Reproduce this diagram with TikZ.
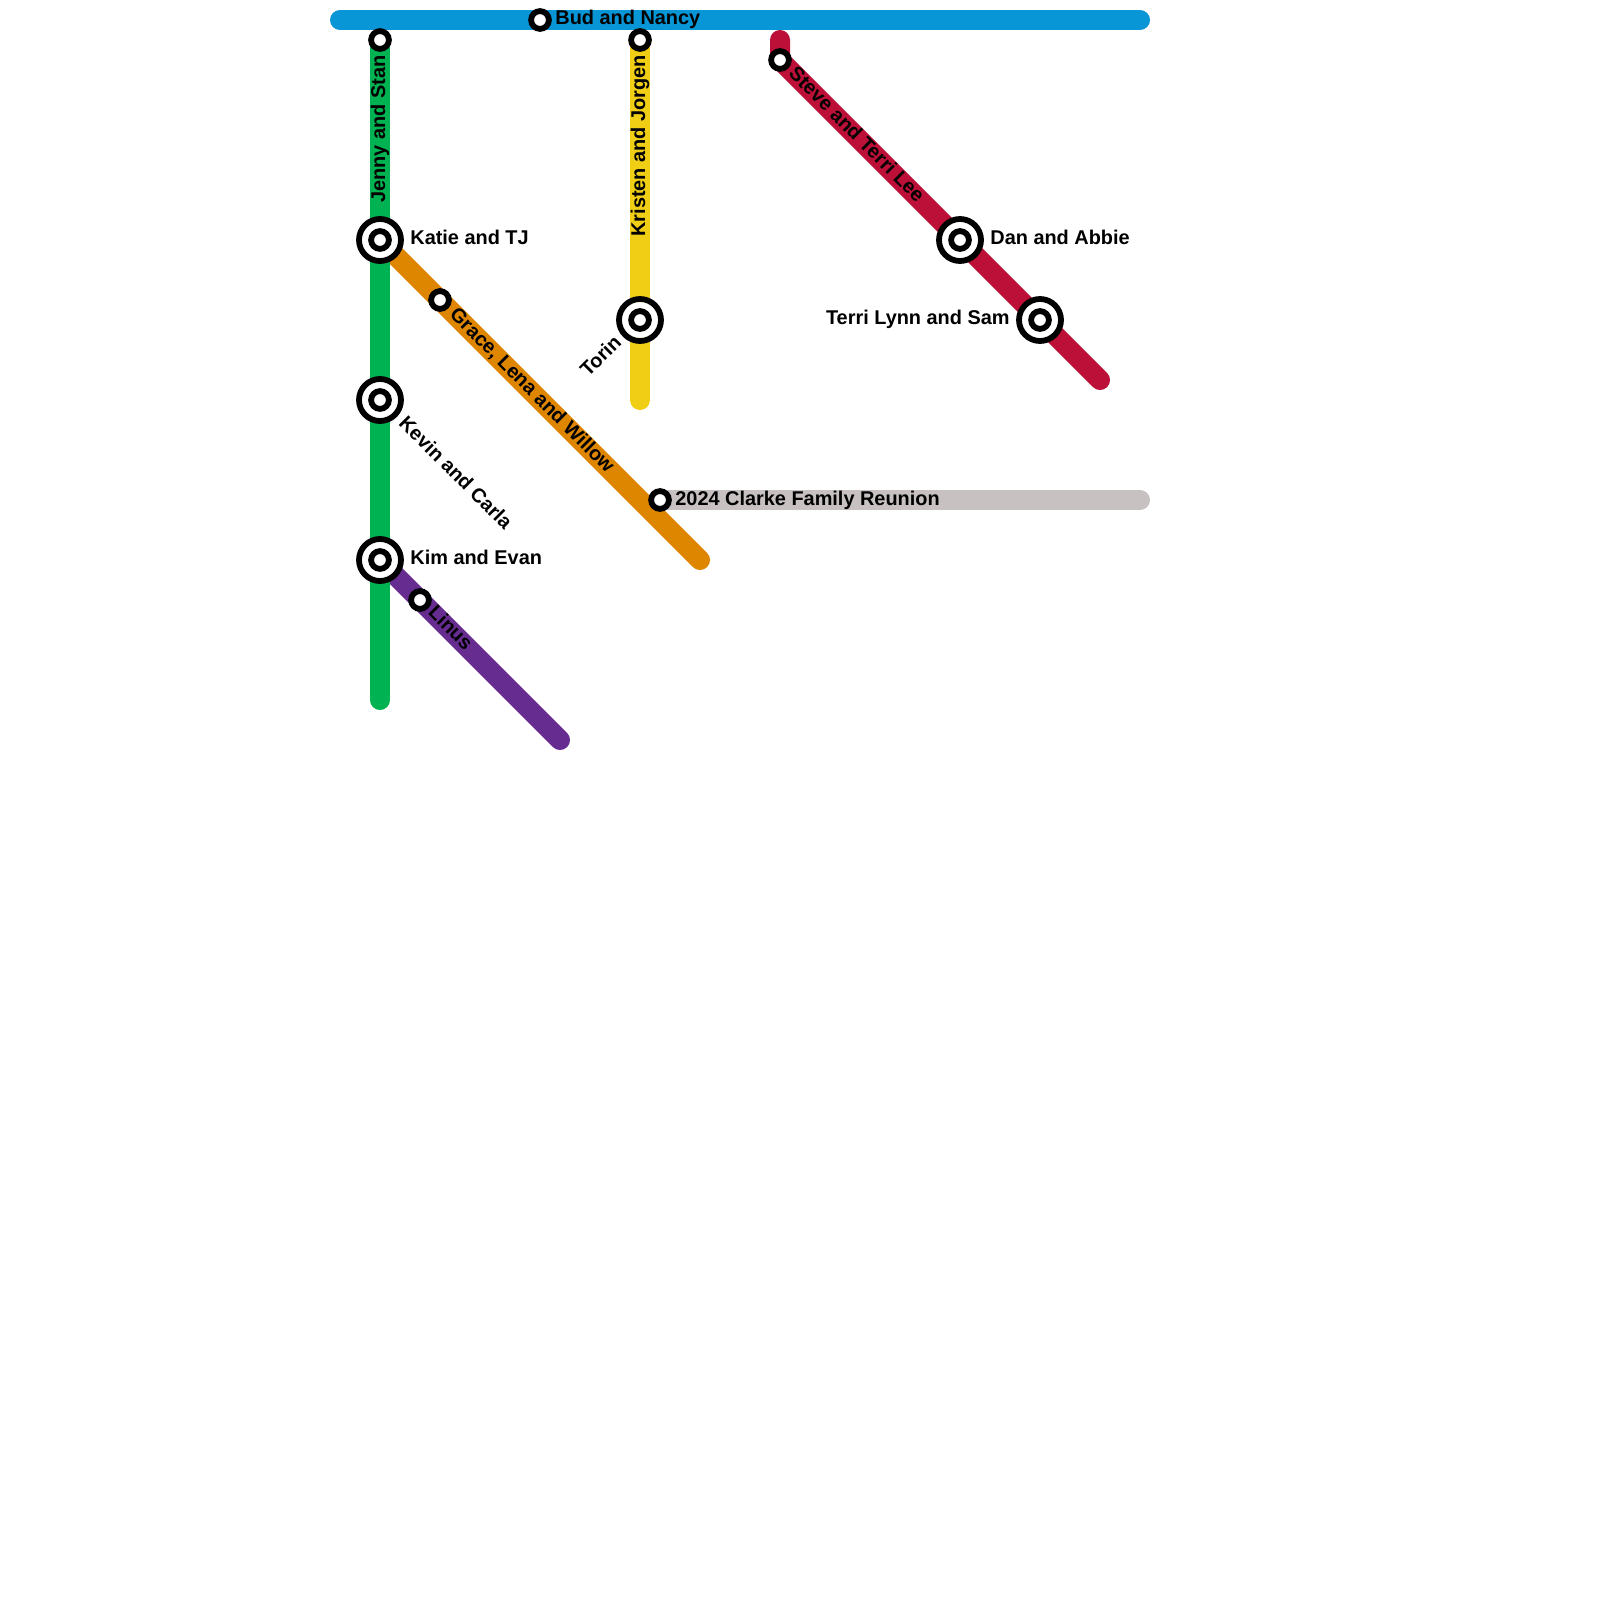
\documentclass[tikz,border=0pt]{standalone}
\usepackage{fontspec}
\setmainfont{Liberation Sans}
\definecolor{cblue}{HTML}{0896D7}
\definecolor{cgreen}{HTML}{00B251}
\definecolor{corange}{HTML}{DF8600}
\definecolor{cyellow}{HTML}{F0CE15}
\definecolor{cred}{HTML}{BD1038}
\definecolor{cpurple}{HTML}{662C90}
\definecolor{cgray}{HTML}{C7C1C1}
\tikzset{
  metro/.style={line width=10pt,line cap=round,line join=round},
  smallst/.style={circle,draw=black,fill=white,line width=2.9pt,minimum size=8.9pt,inner sep=0pt},
  bigst/.style={circle,draw=black,fill=white,line width=2.9pt,minimum size=21pt,inner sep=0pt},
  innerst/.style={circle,draw=black,fill=white,line width=2.9pt,minimum size=8.9pt,inner sep=0pt},
  lab/.style={inner sep=0pt,anchor=base west,font=\fontsize{9.95pt}{12pt}\selectfont\bfseries},
}
\begin{document}
\begin{tikzpicture}[x=0.5pt,y=-0.5pt]
\useasboundingbox[fill=white] (0,0) rectangle (1600,1600);
% end points
\coordinate (bluea) at (340,20);
\coordinate (blueb) at (1140,20);
\coordinate (greena) at (380,40);
\coordinate (greenb) at (380,700);
\coordinate (yellowa) at (640,40);
\coordinate (yellowb) at (640,400);
\coordinate (reda) at (780,40);
\coordinate (redb) at (1100,380);
\coordinate (orangeb) at (700,560);
\coordinate (grayb) at (1140,500);
\coordinate (purpleb) at (560,740);
% station positions
\coordinate (pbud) at (540,20);
\coordinate (pjenny) at (380,40);
\coordinate (pkristen) at (640,40);
\coordinate (psteve) at (780,60);
\coordinate (pkatie) at (380,240);
\coordinate (pkevin) at (380,400);
\coordinate (pkim) at (380,560);
\coordinate (ptorin) at (640,320);
\coordinate (pdan) at (960,240);
\coordinate (pterri) at (1040,320);
\coordinate (pgrace) at (440,300);
\coordinate (plinus) at (420,600);
\coordinate (preunion) at (660,500);
% lines
\draw[metro,cblue] (bluea) -- (blueb);
\draw[metro,cgray] (preunion) -- (grayb);
\draw[metro,corange] (pkatie) -- (orangeb);
\draw[metro,cpurple] (pkim) -- (purpleb);
\draw[metro,cgreen] (greena) -- (greenb);
\draw[metro,cyellow] (yellowa) -- (yellowb);
\draw[metro,cred] (reda) -- (psteve) -- (redb);
% stations
\foreach \n/\p in {bud/pbud,jenny/pjenny,kristen/pkristen,steve/psteve,grace/pgrace,linus/plinus,reunion/preunion}
  \node[smallst] (\n) at (\p) {};
\foreach \n/\p in {katie/pkatie,kevin/pkevin,kim/pkim,torin/ptorin,dan/pdan,terri/pterri}{
  \node[bigst] (\n) at (\p) {};
  \node[innerst] (\n in) at (\p) {};
}
% labels
\node[lab] (tbud) at (555,25) {Bud and Nancy};
\node[lab,rotate=90] (tjenny) at (385,203) {Jenny and Stan};
\node[lab,rotate=90] (tkristen) at (645,237) {Kristen and Jorgen};
\node[lab] (tkatie) at (410,244.5) {Katie and TJ};
\node[lab,rotate=-45] (tkevin) at (397.5,424) {Kevin and Carla};
\node[lab] (tkim) at (410,564.5) {Kim and Evan};
\node[lab,rotate=-45] (tgrace) at (448.5,315.5) {Grace, Lena and Willow};
\node[lab,rotate=-45] (tlinus) at (427,613.5) {Linus};
\node[lab] (treunion) at (675,505) {2024 Clarke Family Reunion};
\node[lab,rotate=45] (ttorin) at (588,378) {Torin};
\node[lab,rotate=-45] (tsteve) at (787.5,74.5) {Steve and Terri Lee};
\node[lab] (tdan) at (990,244.5) {Dan and Abbie};
\node[lab,anchor=base east] (tterri) at (1010,324.5) {Terri Lynn and Sam};
\end{tikzpicture}
\end{document}
